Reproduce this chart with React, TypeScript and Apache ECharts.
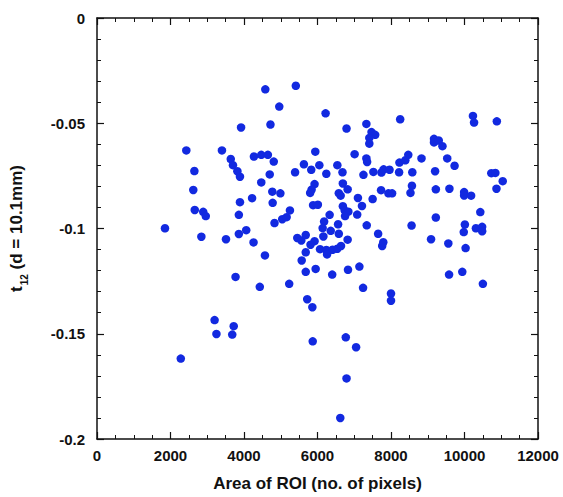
import React, { useEffect, useRef } from "react";
import * as echarts from "echarts";

const roiArea: number[] = [
  4580, 5410, 4960, 3920, 4720, 6220, 6790, 7330, 7470, 7570, 7410, 8250, 10230, 10260, 10880, 9170,
  2430, 3400, 3640, 3700, 3820, 3890, 4270, 4470, 4650, 4810, 4700, 4470, 2650, 2620, 4770, 4990,
  3890, 4220, 4780, 2660, 2890, 2960, 3860, 1850, 4830, 5040, 5160, 5250, 2840, 3510, 3860, 4060,
  4260, 4570, 5940, 7010, 7410, 7330, 7350, 8470, 8230, 8390, 5630, 5830, 6050, 5390, 6240, 6540,
  6680, 7250, 7520, 7740, 7800, 7960, 8220, 8580, 5920, 5840, 5800, 6690, 6820, 6580, 6630, 7100,
  7500, 7730, 7930, 8030, 8530, 5880, 6010, 6690, 6740, 6840, 6750, 7210, 7080, 6330, 6180, 6140,
  6160, 6560, 6360, 7340, 8560, 6580, 6820, 7650, 5450, 5560, 5680, 5920, 5810, 6070, 6240, 6410,
  6540, 6640, 6260, 7760, 7790, 5680, 5570, 5680, 5950, 6830, 7140, 6400, 9170, 9300, 9400, 8830,
  9530, 9730, 9200, 10730, 10840, 11040, 10870, 8570, 9220, 9590, 9990, 9990, 10180, 10430, 9220, 10010,
  9980, 10310, 10480, 10480, 9090, 9560, 10030, 3770, 4430, 5230, 5720, 5860, 3200, 3250, 3680, 3720,
  2280, 5870, 7240, 8000, 8000, 9580, 9940, 10500, 6770, 7050, 6790, 6620,
];

const t12Values: number[] = [
  -0.0339, -0.0322, -0.0421, -0.052, -0.0506, -0.0453, -0.0525, -0.0503, -0.0542, -0.0555, -0.057, -0.0481, -0.0465, -0.0497, -0.0491, -0.0574,
  -0.0629, -0.0629, -0.067, -0.0699, -0.0728, -0.0754, -0.0658, -0.065, -0.065, -0.0682, -0.0743, -0.0781, -0.0727, -0.0817, -0.0825, -0.0833,
  -0.0875, -0.0856, -0.0878, -0.0912, -0.0921, -0.0941, -0.0935, -0.0999, -0.0974, -0.0956, -0.0946, -0.0914, -0.1039, -0.1051, -0.1026, -0.1008,
  -0.1066, -0.1128, -0.0635, -0.0647, -0.0597, -0.0667, -0.0684, -0.065, -0.0687, -0.0676, -0.0695, -0.0721, -0.0699, -0.0733, -0.074, -0.0699,
  -0.0733, -0.0745, -0.0731, -0.0734, -0.0719, -0.0721, -0.0733, -0.0733, -0.0789, -0.0815, -0.0831, -0.0786, -0.0814, -0.0832, -0.0844, -0.0855,
  -0.086, -0.0818, -0.0833, -0.0833, -0.0831, -0.0889, -0.0887, -0.0894, -0.0914, -0.092, -0.0941, -0.0893, -0.0934, -0.0935, -0.0967, -0.0998,
  -0.1038, -0.098, -0.1011, -0.0985, -0.0986, -0.1025, -0.1053, -0.1025, -0.1045, -0.1057, -0.1031, -0.106, -0.1077, -0.1098, -0.1102, -0.1101,
  -0.1096, -0.1083, -0.1123, -0.1083, -0.1065, -0.1113, -0.1152, -0.1206, -0.1192, -0.1196, -0.1181, -0.1219, -0.0591, -0.0582, -0.0609, -0.0667,
  -0.0667, -0.0702, -0.0728, -0.0737, -0.0736, -0.0775, -0.0811, -0.0797, -0.0814, -0.0811, -0.0827, -0.0843, -0.0844, -0.0922, -0.0948, -0.0981,
  -0.1017, -0.0999, -0.0992, -0.1013, -0.1051, -0.1071, -0.1093, -0.123, -0.1277, -0.1263, -0.1336, -0.1374, -0.1435, -0.1501, -0.1504, -0.1464,
  -0.1618, -0.1536, -0.1282, -0.1309, -0.1343, -0.1219, -0.1206, -0.1263, -0.1517, -0.1564, -0.1712, -0.19,
];

const xTitle = "Area of ROI (no. of pixels)";
const yTitleMain = "t";
const yTitleSub = "12";
const yTitleRest = " (d = 10.1mm)";

const FONT = "'Liberation Sans', Arial, Helvetica, sans-serif";
const axisColor = "#111";

export default function App() {
  const ref = useRef<HTMLDivElement>(null);

  useEffect(() => {
    if (!ref.current) return;
    const chart = echarts.init(ref.current, undefined, { renderer: "svg" });
    const points = roiArea.map((x, i) => [x, t12Values[i]]);

    const lineStyle = { color: axisColor, width: 1.5 };
    const tick = { show: true, inside: true, length: 7, lineStyle: { color: axisColor, width: 1.2 } };
    const minor = (n: number) => ({ show: true, splitNumber: n, length: 4, lineStyle: { color: axisColor, width: 1 } });
    const label = { color: "#111", fontFamily: FONT, fontWeight: "bold" as const, fontSize: 15 };
    const titleStyle = { color: "#111", fontFamily: FONT, fontWeight: "bold" as const, fontSize: 17 };

    chart.setOption({
      animation: false,
      backgroundColor: "#fff",
      grid: { left: 94, right: 25, top: 18, bottom: 56 },
      xAxis: [
        {
          type: "value",
          min: 0,
          max: 12000,
          interval: 2000,
          position: "bottom",
          name: xTitle,
          nameLocation: "middle",
          nameGap: 36,
          nameTextStyle: { ...titleStyle },
          axisLine: { show: true, onZero: false, lineStyle },
          axisTick: tick,
          minorTick: minor(4),
          splitLine: { show: false },
          axisLabel: { ...label, margin: 9, formatter: (v: number) => String(v) },
        },
        {
          type: "value",
          min: 0,
          max: 12000,
          interval: 2000,
          position: "top",
          axisLine: { show: true, onZero: false, lineStyle },
          axisTick: tick,
          minorTick: minor(4),
          splitLine: { show: false },
          axisLabel: { show: false },
        },
      ],
      yAxis: [
        {
          type: "value",
          min: -0.2,
          max: 0,
          interval: 0.05,
          position: "left",
          name: `{t|${yTitleMain}}{sub|${yTitleSub}}{t|${yTitleRest}}`,
          nameLocation: "middle",
          nameGap: 72,
          nameTextStyle: {
            ...titleStyle,
            rich: {
              t: { ...titleStyle, lineHeight: 22, verticalAlign: "bottom" },
              sub: { ...titleStyle, fontSize: 10, lineHeight: 22, verticalAlign: "bottom", padding: [0, 0, -4, 1] },
            },
          },
          axisLine: { show: true, onZero: false, lineStyle },
          axisTick: tick,
          minorTick: minor(5),
          splitLine: { show: false },
          axisLabel: { ...label, margin: 12, formatter: (v: number) => String(Math.round(v * 100) / 100) },
        },
        {
          type: "value",
          min: -0.2,
          max: 0,
          interval: 0.05,
          position: "right",
          axisLine: { show: true, onZero: false, lineStyle },
          axisTick: tick,
          minorTick: minor(5),
          splitLine: { show: false },
          axisLabel: { show: false },
        },
      ],
      series: [
        {
          type: "scatter",
          xAxisIndex: 0,
          yAxisIndex: 0,
          data: points,
          symbol: "circle",
          symbolSize: 8.5,
          itemStyle: { color: "#1229e0", opacity: 1 },
        },
      ],
    });

    return () => chart.dispose();
  }, []);

  return (
    <div
      ref={ref}
      style={{ position: "fixed", left: 0, top: 0, width: 563, height: 497, background: "#fff" }}
    />
  );
}
